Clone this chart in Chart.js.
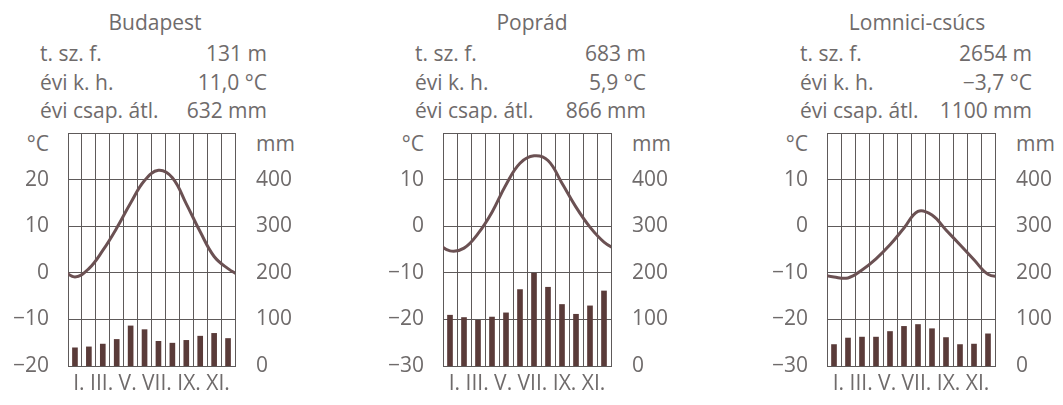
<!DOCTYPE html>
<html>
<head>
<meta charset="utf-8">
<script src="https://cdn.jsdelivr.net/npm/chart.js@4"></script>
<style>
  body { margin: 0; background: #fff; width: 1063px; height: 405px; overflow: hidden; position: relative;
         font-family: "Open Sans", sans-serif; color: #6f6b6b; }
  .t { position: absolute; font-size: 21px; line-height: 24px; white-space: nowrap; }
  canvas { position: absolute; }
</style>
</head>
<body>
<script>
// data
const monthTicks = ['I.', 'III.', 'V.', 'VII.', 'IX.', 'XI.'];

const stations = ['Budapest', 'Poprád', 'Lomnici-csúcs'];
const heights = ['131 m', '683 m', '2654 m'];
const meanTemps = ['11,0 °C', '5,9 °C', '−3,7 °C'];
const meanRain = ['632 mm', '866 mm', '1100 mm'];
const tempMin = [-20, -30, -30];

const budapestTemp = [-0.9, 0.9, 4.8, 9.6, 15.0, 19.8, 22.0, 20.4, 14.8, 8.8, 3.5, 0.9];
const budapestRain = [39, 41, 47, 57, 86, 78, 53, 49, 55, 64, 70, 59];

const popradTemp = [-5.3, -4.7, -1.6, 3.0, 8.9, 13.5, 15.1, 14.1, 9.2, 4.1, -0.2, -3.4];
const popradRain = [109, 104, 98, 105, 114, 164, 199, 169, 132, 111, 129, 161];

const lomniciTemp = [-10.9, -11.1, -9.4, -7.0, -4.0, -0.4, 3.2, 2.4, -0.8, -4.0, -7.2, -10.3];
const lomniciRain = [46, 60, 62, 62, 74, 85, 89, 80, 61, 46, 47, 69];

const temps = [budapestTemp, popradTemp, lomniciTemp];
const rains = [budapestRain, popradRain, lomniciRain];

// layout of the three panels
const panels = [
  { left: 68, width: 167, titleX: 155, labelX: 40, valueX: 267 },
  { left: 443, width: 168, titleX: 532, labelX: 415, valueX: 646 },
  { left: 827, width: 168, titleX: 917, labelX: 800, valueX: 1032 },
];
const LEFT_W = 68, RIGHT_W = 75, CANVAS_TOP = 125, CANVAS_H = 280, PAD_TOP = 8, X_H = 39;
const textColor = '#6f6b6b';
const gridColor = '#5e5a5a';
const fontFamily = '"Open Sans", sans-serif';
const fontSize = 21;

function addText(txt, x, y, align) {
  const d = document.createElement('div');
  d.className = 't';
  d.textContent = txt;
  d.style.top = y + 'px';
  if (align === 'right') {
    d.style.right = (1063 - x) + 'px';
  } else if (align === 'center') {
    d.style.left = (x - 150) + 'px';
    d.style.width = '300px';
    d.style.textAlign = 'center';
  } else {
    d.style.left = x + 'px';
  }
  document.body.appendChild(d);
}

const minus = (v) => (v < 0 ? '−' + Math.abs(v) : String(v));

panels.forEach((p, i) => {
  addText(stations[i], p.titleX, 10, 'center');
  addText('t. sz. f.', p.labelX, 41, 'left');
  addText(heights[i], p.valueX, 41, 'right');
  addText('évi k. h.', p.labelX, 70, 'left');
  addText(meanTemps[i], p.valueX, 70, 'right');
  addText('évi csap. átl.', p.labelX, 98, 'left');
  addText(meanRain[i], p.valueX, 98, 'right');
  addText('°C', p.left - 19, 131, 'right');
  addText('mm', p.left + p.width + 21, 131, 'left');

  const canvas = document.createElement('canvas');
  const w = LEFT_W + p.width + RIGHT_W;
  canvas.width = w;
  canvas.height = CANVAS_H;
  canvas.style.left = (p.left - LEFT_W) + 'px';
  canvas.style.top = CANVAS_TOP + 'px';
  document.body.appendChild(canvas);

  const t = temps[i];
  // curve wraps round the year: December before January, January after December
  const linePts = [{ x: -0.5, y: t[11] }]
    .concat(t.map((v, m) => ({ x: m + 0.5, y: v })))
    .concat([{ x: 12.5, y: t[0] }]);
  const barPts = rains[i].map((v, m) => ({ x: m + 0.5, y: v }));

  const tMin = tempMin[i], tMax = tempMin[i] + 50;

  new Chart(canvas, {
    type: 'line',
    data: {
      datasets: [
        {
          type: 'line',
          data: linePts,
          yAxisID: 'y',
          borderColor: '#6b5153',
          borderWidth: 3,
          tension: 0.4,
          pointRadius: 0,
          clip: 0,
          order: 0,
        },
        {
          type: 'bar',
          data: barPts,
          yAxisID: 'y1',
          backgroundColor: '#5a3b39',
          barThickness: 5,
          order: 1,
        },
      ],
    },
    options: {
      responsive: false,
      animation: false,
      devicePixelRatio: 1,
      layout: { padding: { top: PAD_TOP, left: 0, right: 0, bottom: 0 } },
      plugins: { legend: { display: false }, tooltip: { enabled: false } },
      scales: {
        x: {
          type: 'linear',
          min: 0,
          max: 12,
          offset: false,
          ticks: { display: false, stepSize: 1 },
          grid: { color: gridColor, lineWidth: 1, drawTicks: false, offset: false },
          border: { color: gridColor },
          title: {
            display: true,
            text: monthTicks.join(' '),
            color: textColor,
            font: { family: fontFamily, size: fontSize },
            padding: { top: 0, bottom: 8 },
          },
          afterFit: (s) => { s.height = X_H; s.paddingLeft = 0; s.paddingRight = 0; },
        },
        y: {
          position: 'left',
          min: tMin,
          max: tMax,
          ticks: {
            stepSize: 10,
            padding: 19,
            color: textColor,
            font: { family: fontFamily, size: fontSize },
            callback: (v) => (v === tMax ? '' : minus(v)),
          },
          grid: { color: gridColor, lineWidth: 1, drawTicks: false },
          border: { color: gridColor },
          afterFit: (s) => { s.width = LEFT_W; s.paddingTop = 0; s.paddingBottom = 0; },
        },
        y1: {
          position: 'right',
          min: 0,
          max: 500,
          ticks: {
            stepSize: 100,
            padding: 21,
            color: textColor,
            font: { family: fontFamily, size: fontSize },
            callback: (v) => (v === 500 ? '' : String(v)),
          },
          grid: { display: false, drawTicks: false },
          border: { display: false },
          afterFit: (s) => { s.width = RIGHT_W; s.paddingTop = 0; s.paddingBottom = 0; },
        },
      },
    },
  });
});
</script>
</body>
</html>
